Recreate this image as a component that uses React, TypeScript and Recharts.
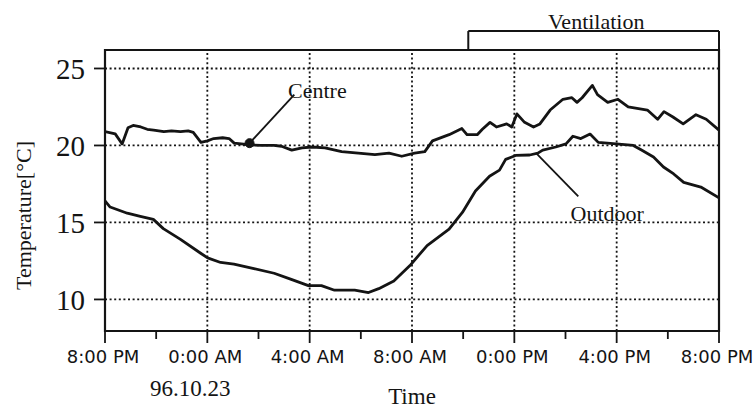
import React from "react";
import {
  LineChart,
  Line,
  XAxis,
  YAxis,
  ReferenceLine,
  ReferenceArea,
  ReferenceDot,
} from "recharts";

// ---- data (hours since 8:00 PM, 96.10.22) ----
const CENTRE_HOURS = [
  0, 0.4, 0.67, 0.9, 1.1, 1.4, 1.65, 1.9, 2.3, 2.6, 2.95, 3.25, 3.45, 3.75, 4.0,
  4.25, 4.6, 4.85, 5.05, 5.6, 6.1, 6.6, 6.9, 7.3, 7.7, 8.1, 8.6, 9.25, 9.9,
  10.55, 11.1, 11.6, 12.1, 12.5, 12.8, 13.45, 13.95, 14.15, 14.55, 14.75, 15.05,
  15.3, 15.7, 15.9, 16.1, 16.4, 16.75, 17.0, 17.4, 17.9, 18.25, 18.45, 18.65,
  19.05, 19.25, 19.65, 20.05, 20.45, 21.2, 21.6, 21.85, 22.2, 22.6, 23.1, 23.5,
  24.0,
];
const CENTRE_TEMPS = [
  20.9, 20.75, 20.1, 21.15, 21.3, 21.2, 21.05, 21.0, 20.9, 20.95, 20.9, 20.95,
  20.85, 20.2, 20.3, 20.45, 20.5, 20.45, 20.15, 20.05, 20.0, 20.0, 19.95, 19.7,
  19.85, 19.9, 19.85, 19.6, 19.5, 19.4, 19.5, 19.3, 19.5, 19.6, 20.3, 20.7,
  21.1, 20.7, 20.7, 21.05, 21.5, 21.2, 21.4, 21.2, 22.05, 21.5, 21.2, 21.4,
  22.3, 23.0, 23.1, 22.8, 23.1, 23.9, 23.3, 22.8, 23.0, 22.5, 22.3, 21.7, 22.2,
  21.85, 21.4, 22.0, 21.7, 21.0,
];

const OUTDOOR_HOURS = [
  0, 0.2, 0.87, 1.38, 1.89, 2.28, 2.95, 3.74, 4.01, 4.52, 5.04, 5.82, 6.61,
  7.28, 7.95, 8.46, 8.97, 9.76, 10.3, 10.7, 11.29, 11.92, 12.59, 13.45, 13.97,
  14.48, 15.03, 15.42, 15.66, 16.05, 16.6, 16.92, 17.11, 17.62, 18.02, 18.29,
  18.6, 18.96, 19.28, 19.98, 20.65, 20.97, 21.44, 21.83, 22.23, 22.62, 23.29,
  24.0,
];
const OUTDOOR_TEMPS = [
  16.4, 16.0, 15.6, 15.4, 15.2, 14.6, 13.9, 13.0, 12.7, 12.4, 12.3, 12.0, 11.7,
  11.3, 10.9, 10.9, 10.6, 10.6, 10.45, 10.7, 11.2, 12.2, 13.5, 14.56, 15.65,
  17.04, 18.0, 18.4, 19.1, 19.35, 19.38, 19.5, 19.7, 19.9, 20.1, 20.6, 20.45,
  20.74, 20.2, 20.1, 20.0, 19.7, 19.25, 18.6, 18.15, 17.6, 17.3, 16.6,
];

const X_TICKS = [0, 2, 4, 6, 8, 10, 12, 14, 16, 18, 20, 22, 24];
const X_MAJOR = [0, 4, 8, 12, 16, 20, 24];
const X_TICK_LABELS = ["8:00 PM", "0:00 AM", "4:00 AM", "8:00 AM", "0:00 PM", "4:00 PM", "8:00 PM"];
const DATE_LABEL = "96.10.23";
const Y_TICKS = [10, 15, 20, 25];
const GRID_X = [4, 8, 12, 16, 20];
const GRID_Y = [10, 15, 20, 25];
const Y_DOMAIN: [number, number] = [7.95, 26.2];
const X_DOMAIN: [number, number] = [0, 24];

// Ventilation period
const VENT_START = 14.2;
const VENT_END = 24;
const VENT_LEVEL = 27.43;
const VENT_TEXT_POS = { h: 19.2, t: 28.05 };

// Annotations
const CENTRE_DOT = { h: 5.65, t: 20.15 };
const CENTRE_LEADER_END = { h: 7.4, t: 23.3 };
const CENTRE_TEXT = { h: 8.3, t: 23.6 };
const OUTDOOR_LEADER_START = { h: 16.88, t: 19.45 };
const OUTDOOR_LEADER_END = { h: 18.5, t: 16.7 };
const OUTDOOR_TEXT = { h: 19.63, t: 15.6 };

const centreData = CENTRE_HOURS.map((h, i) => ({ h, t: CENTRE_TEMPS[i] }));
const outdoorData = OUTDOOR_HOURS.map((h, i) => ({ h, t: OUTDOOR_TEMPS[i] }));

const INK = "#141414";
const SERIF = "'Liberation Serif', 'Times New Roman', serif";
const SANS = "'DejaVu Sans', Verdana, sans-serif";

const XTick = (props: any) => {
  const { x, y, payload } = props;
  const v = payload.value;
  const idx = X_MAJOR.indexOf(v);
  const major = idx >= 0;
  return (
    <g>
      <line x1={x} x2={x} y1={y} y2={y + (major ? 12 : 8)} stroke={INK} strokeWidth={1.8} />
      {major && (
        <text x={x - 2} y={y + 32} textAnchor="middle" fontFamily={SANS} fontSize={18} fill={INK}>
          {X_TICK_LABELS[idx]}
        </text>
      )}
      {idx === 1 && (
        <text x={x - 17} y={y + 65} textAnchor="middle" fontFamily={SERIF} fontSize={23} fill={INK}>
          {DATE_LABEL}
        </text>
      )}
    </g>
  );
};

const YLabel = (props: any) => {
  const vb = props.viewBox || { x: 45, y: 50, width: 60, height: 281 };
  const cx = vb.x - 22;
  const cy = vb.y + vb.height / 2 + 25;
  return (
    <text
      x={0}
      y={0}
      transform={`translate(${cx}, ${cy}) rotate(-90)`}
      textAnchor="middle"
      dominantBaseline="central"
      fontFamily={SERIF}
      fontSize={22}
      fill={INK}
    >
      Temperature[°C]
    </text>
  );
};

export default function App() {
  return (
    <div style={{ position: "absolute", left: 0, top: 0, background: "#fff" }}>
      <LineChart
        width={755}
        height={411}
        margin={{ top: 50, right: 36, bottom: 0, left: 45 }}
      >
        <XAxis
          dataKey="h"
          type="number"
          domain={X_DOMAIN}
          ticks={X_TICKS}
          interval={0}
          allowDataOverflow
          tick={<XTick />}
          tickLine={false}
          tickSize={0}
          tickMargin={0}
          axisLine={false}
          height={80}
          label={{
            value: "Time",
            position: "insideBottom",
            offset: 7,
            fontFamily: SERIF,
            fontSize: 23,
            fill: INK,
          }}
        />
        <YAxis
          type="number"
          domain={Y_DOMAIN}
          ticks={Y_TICKS}
          interval={0}
          allowDataOverflow
          width={60}
          axisLine={false}
          tickSize={11}
          tickMargin={9}
          tickLine={{ stroke: INK, strokeWidth: 1.8 }}
          tick={{ fontFamily: SERIF, fontSize: 29, fill: INK }}
          label={{ content: <YLabel /> }}
        />

        {GRID_Y.map((v) => (
          <ReferenceLine key={`gy${v}`} y={v} stroke={INK} strokeWidth={1.8} strokeDasharray="2 2.6" />
        ))}
        {GRID_X.map((v) => (
          <ReferenceLine key={`gx${v}`} x={v} stroke={INK} strokeWidth={1.8} strokeDasharray="2 2.6" />
        ))}

        <ReferenceArea
          x1={X_DOMAIN[0]}
          x2={X_DOMAIN[1]}
          y1={Y_DOMAIN[0]}
          y2={Y_DOMAIN[1]}
          fill="none"
          fillOpacity={0}
          stroke={INK}
          strokeWidth={2.2}
          ifOverflow="visible"
        />

        {/* Ventilation bracket */}
        <ReferenceLine
          segment={[{ x: VENT_START, y: VENT_LEVEL }, { x: VENT_END, y: VENT_LEVEL }]}
          stroke={INK}
          strokeWidth={2}
          ifOverflow="visible"
        />
        <ReferenceLine
          segment={[{ x: VENT_START, y: VENT_LEVEL }, { x: VENT_START, y: Y_DOMAIN[1] }]}
          stroke={INK}
          strokeWidth={2}
          ifOverflow="visible"
        />
        <ReferenceLine
          segment={[{ x: VENT_END, y: VENT_LEVEL }, { x: VENT_END, y: Y_DOMAIN[1] }]}
          stroke={INK}
          strokeWidth={2}
          ifOverflow="visible"
        />
        <ReferenceDot
          x={VENT_TEXT_POS.h}
          y={VENT_TEXT_POS.t}
          r={0}
          stroke="none"
          fill="none"
          ifOverflow="visible"
          label={{ value: "Ventilation", position: "center", fontFamily: SERIF, fontSize: 22, fill: INK }}
        />

        <Line
          data={outdoorData}
          dataKey="t"
          type="linear"
          stroke={INK}
          strokeWidth={2.8}
          dot={false}
          isAnimationActive={false}
          strokeLinejoin="round"
        />
        <Line
          data={centreData}
          dataKey="t"
          type="linear"
          stroke={INK}
          strokeWidth={2.8}
          dot={false}
          isAnimationActive={false}
          strokeLinejoin="round"
        />

        {/* Centre annotation */}
        <ReferenceLine
          segment={[
            { x: CENTRE_DOT.h, y: CENTRE_DOT.t },
            { x: CENTRE_LEADER_END.h, y: CENTRE_LEADER_END.t },
          ]}
          stroke={INK}
          strokeWidth={1.8}
        />
        <ReferenceDot x={CENTRE_DOT.h} y={CENTRE_DOT.t} r={4.5} fill={INK} stroke={INK} />
        <ReferenceDot
          x={CENTRE_TEXT.h}
          y={CENTRE_TEXT.t}
          r={0}
          stroke="none"
          fill="none"
          label={{ value: "Centre", position: "center", fontFamily: SERIF, fontSize: 22, fill: INK }}
        />

        {/* Outdoor annotation */}
        <ReferenceLine
          segment={[
            { x: OUTDOOR_LEADER_START.h, y: OUTDOOR_LEADER_START.t },
            { x: OUTDOOR_LEADER_END.h, y: OUTDOOR_LEADER_END.t },
          ]}
          stroke={INK}
          strokeWidth={1.8}
        />
        <ReferenceDot
          x={OUTDOOR_TEXT.h}
          y={OUTDOOR_TEXT.t}
          r={0}
          stroke="none"
          fill="none"
          label={{ value: "Outdoor", position: "center", fontFamily: SERIF, fontSize: 22, fill: INK }}
        />
      </LineChart>
    </div>
  );
}
